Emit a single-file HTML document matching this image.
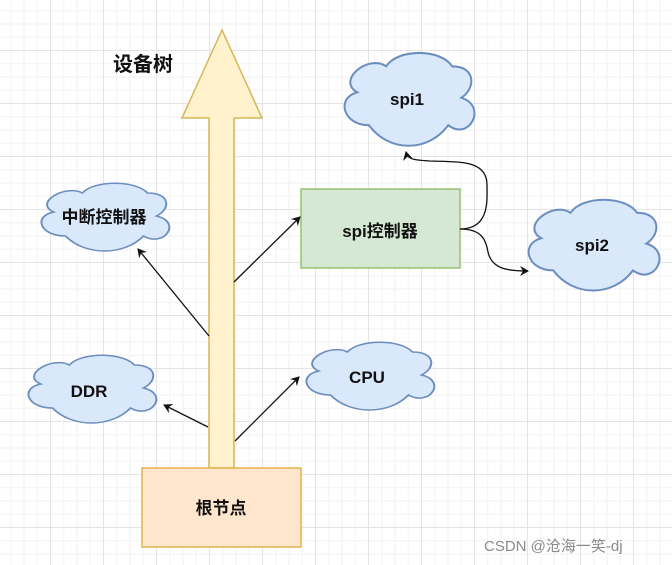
<!DOCTYPE html>
<html><head><meta charset="utf-8"><style>
html,body{margin:0;padding:0;background:#fff}
body{width:672px;height:565px;overflow:hidden;position:relative;
background-image:
linear-gradient(#e4e4e4 1px,transparent 1px),linear-gradient(90deg,#e4e4e4 1px,transparent 1px),
linear-gradient(#f2f2f2 1px,transparent 1px),linear-gradient(90deg,#f2f2f2 1px,transparent 1px);
background-size:53px 53px,53px 53px,13.25px 13.25px,13.25px 13.25px;
background-position:-3px -3px,-3px -3px,-3px -3px,-3px -3px;}
svg{position:absolute;left:0;top:0}
text{font-family:"Liberation Sans","Noto Sans CJK SC",sans-serif;font-weight:bold;font-size:17px;fill:#111}
</style></head><body>
<svg width="672" height="565" viewBox="0 0 672 565">
<defs>
<path id="cl" d="M25 60 C5 60 0 40 16 36 C0 27 25 8 38 17 C47 4 79 4 88 17 C106 17 106 33 95 40 C115 46 101 72 85 60 C70 80 40 80 25 60 Z"/>
<marker id="ah" markerWidth="10" markerHeight="10" refX="8" refY="5" orient="auto" markerUnits="userSpaceOnUse">
<path d="M0 0 L9 5 L0 10 L3 5 Z" fill="#111"/></marker>
</defs>
<path d="M222 30 L262 118 L234 118 L234 468 L209 468 L209 118 L182 118 Z" fill="#fff2cc" stroke="#d6b656" stroke-width="1.5"/>
<g fill="#dae8fc" stroke="#6c8ebf" stroke-width="1.5">
<use href="#cl" transform="translate(33,176) scale(1.3,1.0)"/>
<use href="#cl" transform="translate(336,43) scale(1.32,1.37)"/>
<use href="#cl" transform="translate(520,190) scale(1.33,1.34)"/>
<use href="#cl" transform="translate(20,348) scale(1.3,1.0)"/>
<use href="#cl" transform="translate(298,335) scale(1.3,1.0)"/>
</g>
<rect x="142" y="468" width="159" height="79" fill="#ffe6cc" stroke="#e6b34a" stroke-width="1.5"/>
<rect x="301" y="189" width="159" height="79" fill="#d5e8d4" stroke="#97c16f" stroke-width="1.5"/>
<g stroke="#111" stroke-width="1.3" fill="none" marker-end="url(#ah)">
<line x1="234" y1="282" x2="300" y2="217"/>
<line x1="209" y1="336" x2="138" y2="249"/>
<line x1="208" y1="427" x2="164" y2="405"/>
<line x1="235" y1="441" x2="299" y2="377"/>
<path d="M460 229 C490 229 487 200 487 185 C487 160 460 162 430 161 C415 160 408 160 406 152"/>
<path d="M460 229 C482 229 486 240 488 252 C492 270 510 271 528 271"/>
</g>
<text x="143" y="71" text-anchor="middle" style="font-size:20px">设备树</text>
<text x="104" y="223" text-anchor="middle">中断控制器</text>
<text x="407" y="105" text-anchor="middle">spi1</text>
<text x="592" y="251" text-anchor="middle">spi2</text>
<text x="89" y="397" text-anchor="middle">DDR</text>
<text x="367" y="383" text-anchor="middle">CPU</text>
<text x="221" y="514" text-anchor="middle">根节点</text>
<text x="380" y="237" text-anchor="middle">spi控制器</text>
<text x="484" y="551" style="font-weight:normal;font-size:15px;fill:#8a8a8a">CSDN @沧海一笑-dj</text>
</svg>
</body></html>
